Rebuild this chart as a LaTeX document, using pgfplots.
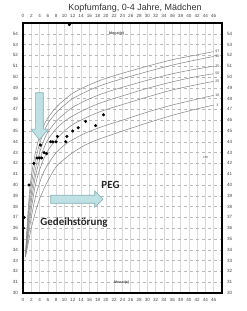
\documentclass[border=0pt]{standalone}
\usepackage{pgfplots}
\pgfplotsset{compat=1.18}
\usepackage{fontspec}
\setmainfont{Liberation Sans}
\newfontfamily\carlito{Carlito}
\definecolor{arrowfill}{HTML}{BFE1E4}
\definecolor{arrowdraw}{HTML}{7FB0B6}
\definecolor{curvec}{HTML}{8A8A8A}
\definecolor{ticklab}{HTML}{444444}
\tikzset{plab/.style={font=\fontsize{3.6}{4}\selectfont, text=ticklab}}
\begin{document}
\begin{tikzpicture}
\pgfplotsset{
  common/.style={
    scale only axis, width=199bp, height=270bp,
    at={(0,0)}, anchor=south west,
    xmin=0, xmax=48, ymin=30, ymax=55,
    xtick={0,2,...,46}, ytick={30,31,...,54},
    tick label style={font=\fontsize{4.6}{5}\selectfont, text=ticklab},
    /pgf/number format/assume math mode=true,
    axis line style={line width=1.3pt},
    tick align=outside, major tick length=1.5pt,
    tick style={black, line width=0.4pt},
  },
}
\begin{axis}[common,
  xtick pos=lower, ytick pos=left,
  xticklabel pos=lower, yticklabel pos=left,
  grid=major,
  x grid style={gray!30, line width=0.6pt},
  y grid style={gray!55, dashed, line width=0.35pt},
  clip=false,
]
% percentile curves
\addplot[curvec, line width=0.55pt, smooth, tension=0.5] coordinates {
(0.6,33.4) (1,36.3) (1.5,39.0) (2,40.8) (3,43.0) (4,44.5) (5,45.5) (6,46.2) (8,47.2) (10,47.9) (12,48.5) (15,49.1) (18,49.6) (21,50.0) (24,50.35) (30,51.0) (36,51.6) (42,52.05) (46,52.35)};
\addplot[curvec, line width=0.55pt, smooth, tension=0.5] coordinates {
(0.6,33.4) (1,35.8) (1.5,38.3) (2,40.0) (3,42.3) (4,43.8) (5,44.9) (6,45.7) (8,46.7) (10,47.4) (12,48.0) (15,48.6) (18,49.1) (21,49.5) (24,49.85) (30,50.5) (36,51.1) (42,51.6) (46,51.9)};
\addplot[curvec, line width=0.55pt, smooth, tension=0.5] coordinates {
(0.6,33.4) (1,35.4) (1.5,37.6) (2,39.2) (3,41.5) (4,43.0) (5,44.1) (6,44.9) (8,45.9) (10,46.6) (12,47.2) (15,47.8) (18,48.3) (21,48.7) (24,49.05) (30,49.7) (36,50.3) (42,50.75) (46,51.0)};
\addplot[curvec, line width=0.55pt, smooth, tension=0.5] coordinates {
(0.6,33.4) (1,35.0) (1.5,37.0) (2,38.5) (3,40.8) (4,42.3) (5,43.4) (6,44.2) (8,45.2) (10,45.9) (12,46.4) (15,47.0) (18,47.5) (21,47.9) (24,48.25) (30,48.95) (36,49.55) (42,50.05) (46,50.3)};
\addplot[curvec, line width=0.55pt, smooth, tension=0.5] coordinates {
(0.6,33.4) (1,34.7) (1.5,36.4) (2,37.8) (3,40.0) (4,41.4) (5,42.4) (6,43.2) (8,44.2) (10,45.0) (12,45.6) (15,46.2) (18,46.7) (21,47.1) (24,47.45) (30,48.15) (36,48.8) (42,49.3) (46,49.6)};
\addplot[curvec, line width=0.55pt, smooth, tension=0.5] coordinates {
(0.6,33.4) (1,34.4) (1.5,35.8) (2,37.0) (3,38.9) (4,40.2) (5,41.2) (6,41.9) (8,43.0) (10,43.7) (12,44.2) (15,44.8) (18,45.25) (21,45.65) (24,46.0) (30,46.75) (36,47.4) (42,47.95) (46,48.3)};
\addplot[curvec, line width=0.55pt, smooth, tension=0.5] coordinates {
(0.6,33.4) (1,34.1) (1.5,35.1) (2,36.0) (3,37.5) (4,38.7) (5,39.6) (6,40.4) (8,41.7) (10,42.4) (12,43.0) (15,43.7) (18,44.2) (21,44.6) (24,45.0) (30,45.75) (36,46.45) (42,47.05) (46,47.4)};
% percentile labels
\node[plab] at (axis cs:46.9,52.35) {97};
\node[plab] at (axis cs:46.9,51.9) {90};
\node[plab] at (axis cs:46.9,51.0) {75};
\node[plab] at (axis cs:46.9,50.3) {50};
\node[plab] at (axis cs:46.9,49.6) {25};
\node[plab] at (axis cs:46.9,48.3) {10};
\node[plab] at (axis cs:46.9,47.4) {3};
% measurements
\addplot[only marks, mark=*, mark size=1.35pt, black] coordinates {
(0.1,36.0) (0.25,37.0) (1.45,40.0) (2.6,42.0) (3.4,42.5) (3.9,42.5) (4.5,42.5)
(4.2,43.7) (5.1,43.0) (5.7,42.9) (6.7,44.0) (7.2,44.0) (8.0,44.0) (8.3,44.5)
(10.3,44.0) (10.6,44.5) (12.0,45.0) (13.3,45.3) (15.1,45.9) (17.5,45.5) (19.4,46.5)
(11.2,54.85)};
% arrows
\draw[fill=arrowfill, draw=arrowdraw, line width=0.6pt]
  (axis cs:3.06,48.54) -- (axis cs:4.89,48.54) -- (axis cs:4.89,45.18) -- (axis cs:6.1,45.18)
  -- (axis cs:3.97,44.19) -- (axis cs:1.9,45.18) -- (axis cs:3.06,45.18) -- cycle;
\draw[fill=arrowfill, draw=arrowdraw, line width=0.6pt]
  (axis cs:6.7,39.05) -- (axis cs:17.3,39.05) -- (axis cs:17.3,39.45) -- (axis cs:19.3,38.68)
  -- (axis cs:17.3,37.94) -- (axis cs:17.3,38.31) -- (axis cs:6.7,38.31) -- cycle;
% texts
\node[font=\carlito\bfseries\fontsize{11}{11}\selectfont, text=black!85] at (axis cs:21.1,40.05) {PEG};
\node[font=\carlito\bfseries\fontsize{11}{11}\selectfont, text=black!85] at (axis cs:12.3,36.55) {Gedeihstörung};
\node[font=\bfseries\fontsize{3.6}{4}\selectfont, text=ticklab] at (axis cs:22.6,54.0) {Monat(e)};
\node[font=\bfseries\fontsize{3.6}{4}\selectfont, text=ticklab] at (axis cs:23.8,31.0) {Monat(e)};
\node[plab] at (axis cs:44,42.5) {cm};
\node[font=\fontsize{9}{9}\selectfont, text=black!80] at (rel axis cs:0.563,1) [yshift=15bp] {Kopfumfang, 0-4 Jahre, Mädchen};
\end{axis}
\begin{axis}[common,
  xtick pos=upper, ytick pos=right,
  xticklabel pos=upper, yticklabel pos=right,
]
\end{axis}
\pgfresetboundingbox
\path[use as bounding box] (-23bp,-18bp) rectangle (224bp,293bp);
\end{tikzpicture}
\end{document}
